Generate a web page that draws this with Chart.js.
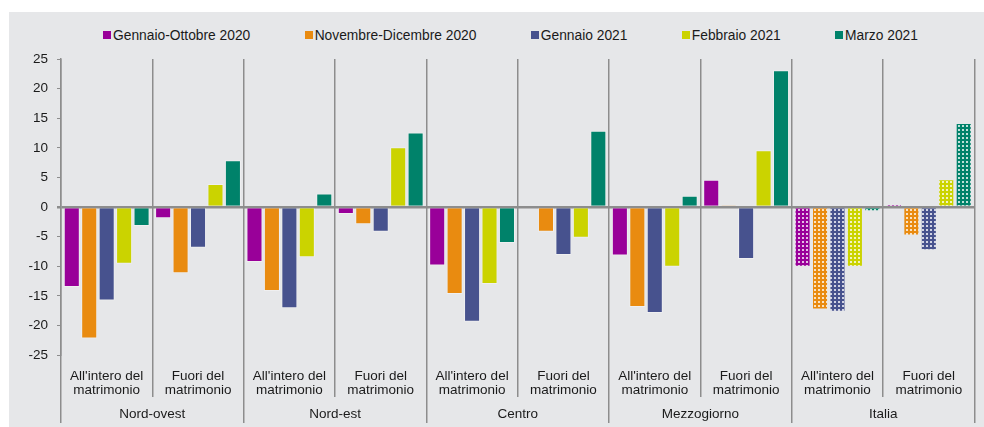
<!DOCTYPE html>
<html lang="it">
<head>
<meta charset="utf-8">
<script src="https://cdn.jsdelivr.net/npm/chart.js@4.4.1/dist/chart.umd.min.js"></script>
<style>
  html, body { margin: 0; padding: 0; background: #ffffff; }
  body { width: 984px; height: 427px; position: relative; overflow: hidden; font-family: "Liberation Sans", Arial, sans-serif; }
  #panel { position: absolute; left: 9px; top: 12px; width: 975px; height: 415px; background: #e6e7e9; }
  #chartWrap { position: absolute; left: 0; top: 0; width: 975px; height: 415px; }
  #legend { position: absolute; left: 94px; top: 15px; width: 815px; height: 16px; display: flex; justify-content: space-between; align-items: center; font-size: 13.8px; color: #1a1a1a; }
  #legend .item { display: flex; align-items: center; white-space: nowrap; }
  #legend .sq { display: inline-block; width: 8px; height: 8px; margin-right: 2px; }
</style>
</head>
<body>
<div id="panel">
  <div id="legend"></div>
  <div id="chartWrap"><canvas id="chartNascite"></canvas></div>
</div>
<script>
// ===========================================
// Variazioni percentuali nascite per ripartizione
// ===========================================

// categorie (asse x interno) e ripartizioni (asse x esterno)
const categorie = [
    ["All'intero del", "matrimonio"], ["Fuori del", "matrimonio"],
    ["All'intero del", "matrimonio"], ["Fuori del", "matrimonio"],
    ["All'intero del", "matrimonio"], ["Fuori del", "matrimonio"],
    ["All'intero del", "matrimonio"], ["Fuori del", "matrimonio"],
    ["All'intero del", "matrimonio"], ["Fuori del", "matrimonio"]
];
const ripartizioni = ['Nord-ovest', 'Nord-est', 'Centro', 'Mezzogiorno', 'Italia'];

// serie
const serieNomi = ['Gennaio-Ottobre 2020', 'Novembre-Dicembre 2020', 'Gennaio 2021', 'Febbraio 2021', 'Marzo 2021'];
const gennaioOttobre2020 = [-13.5, -1.9, -9.3, -1.2, -9.9, 0, -8.2, 4.6, -10.1, 0.5];
const novembreDicembre2020 = [-22.2, -11.2, -14.2, -2.9, -14.7, -4.2, -16.9, 0.3, -17.3, -4.8];
const gennaio2021 = [-15.8, -6.9, -17.1, -4.2, -19.4, -8.1, -17.9, -8.8, -17.7, -7.3];
const febbraio2021 = [-9.6, 3.9, -8.5, 10.1, -13.0, -5.2, -10.1, 9.6, -10.1, 4.7];
const marzo2021 = [-3.2, 7.9, 2.3, 12.6, -6.1, 12.9, 1.9, 23.1, -0.7, 14.2];

// asse y
const yMin = -25, yMax = 25, yStep = 5;

const colori = ['#990099', '#e98b10', '#47528e', '#cbd300', '#00826a'];
const griglia = '#8d8d8d';
const font = { family: "'Liberation Sans', Arial, sans-serif", size: 13.5, lineHeight: 1.05 };

// Italia = retinato
function retino(colore) {
    const c = document.createElement('canvas');
    c.width = 4; c.height = 4;
    const g = c.getContext('2d');
    g.fillStyle = colore;
    g.fillRect(0, 0, 4, 4);
    g.fillStyle = 'rgba(255,255,255,0.75)';
    g.fillRect(1, 1, 2, 2);
    return g.createPattern(c, 'repeat');
}

const valori = [gennaioOttobre2020, novembreDicembre2020, gennaio2021, febbraio2021, marzo2021];
const datasets = valori.map((data, i) => {
    const pat = retino(colori[i]);
    return {
        label: serieNomi[i],
        data,
        backgroundColor: ctx => ctx.dataIndex >= 8 ? pat : colori[i],
        borderColor: ctx => ctx.dataIndex >= 8 ? 'rgba(0,0,0,0)' : 'rgba(255,255,255,0.35)',
        borderWidth: 1,
        borderSkipped: 'start',
        categoryPercentage: 0.955,
        barPercentage: 0.92
    };
});

// legenda html
const legendEl = document.getElementById('legend');
serieNomi.forEach((nome, i) => {
    const it = document.createElement('span');
    it.className = 'item';
    it.innerHTML = '<span class="sq" style="background:' + colori[i] + '"></span>' + nome;
    legendEl.appendChild(it);
});

Chart.defaults.font.family = font.family;
Chart.defaults.color = '#1a1a1a';

new Chart(document.getElementById('chartNascite').getContext('2d'), {
    type: 'bar',
    data: { labels: categorie, datasets },
    options: {
        responsive: true,
        maintainAspectRatio: false,
        animation: false,
        layout: { padding: { top: 47, right: 9.5, bottom: 4, left: 0 } },
        plugins: {
            legend: { display: false },
            tooltip: { enabled: false }
        },
        scales: {
            x: {
                weight: 0,
                grid: { offset: true, color: griglia, lineWidth: 1.5, tickLength: 42, drawOnChartArea: true },
                border: { display: false },
                ticks: { font, padding: -28, autoSkip: false, maxRotation: 0, color: '#1a1a1a' },
                afterFit: s => { s.height = 42; }
            },
            x2: {
                type: 'category',
                position: 'bottom',
                weight: 1,
                labels: ripartizioni,
                grid: { offset: true, color: griglia, lineWidth: 1.5, tickLength: 26, drawOnChartArea: false },
                border: { display: false },
                ticks: { font, padding: -16, autoSkip: false, maxRotation: 0, color: '#1a1a1a' },
                afterFit: s => { s.height = 26; }
            },
            y: {
                min: yMin,
                max: yMax,
                ticks: { stepSize: yStep, font, padding: 9, color: '#1a1a1a' },
                grid: {
                    color: c => c.tick && c.tick.value === 0 ? griglia : 'rgba(0,0,0,0)',
                    lineWidth: c => c.tick && c.tick.value === 0 ? 2.5 : 1,
                    tickColor: griglia,
                    tickLength: 4
                },
                border: { color: griglia, width: 1.5 },
                afterFit: s => { s.width = 52; }
            }
        }
    }
});
</script>
</body>
</html>
